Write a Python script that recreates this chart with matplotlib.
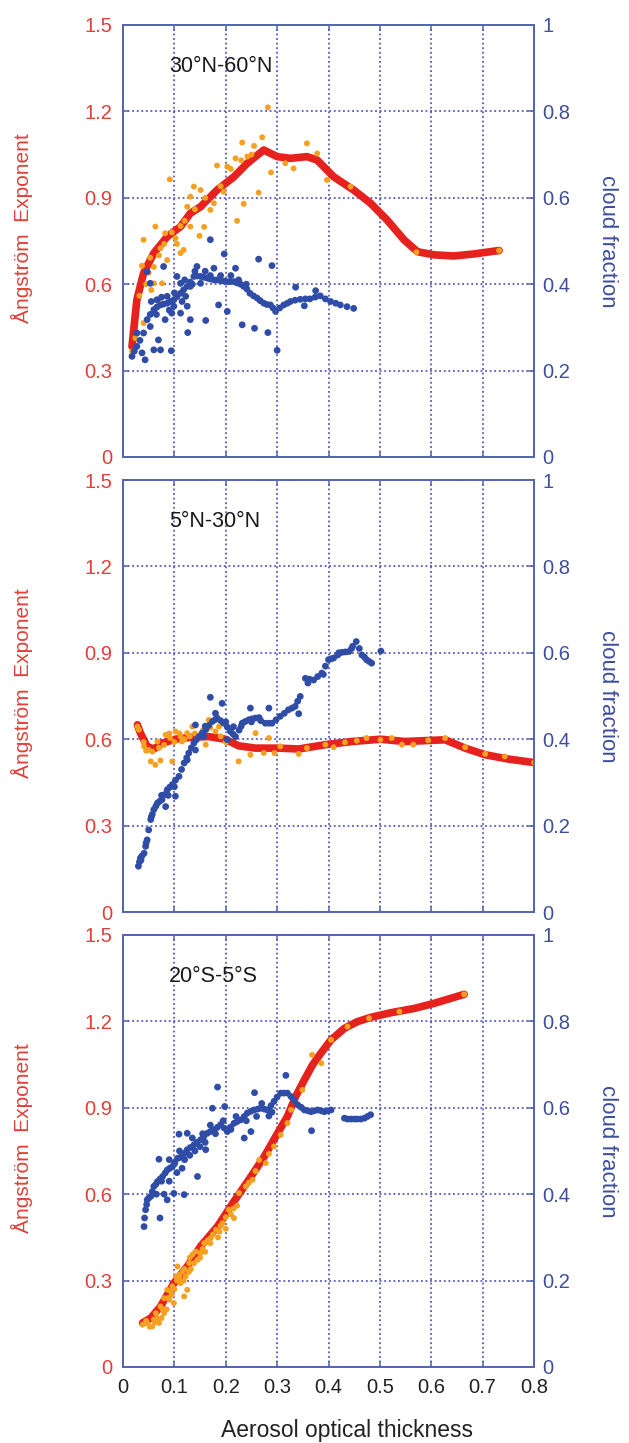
import matplotlib
matplotlib.use("Agg")
import matplotlib.pyplot as plt

plt.rcParams['font.family'] = ['Liberation Sans', 'DejaVu Sans']

# ---------------- data ----------------
regions = ["30°N-60°N", "5°N-30°N", "20°S-5°S"]
x_ticks = [0, 0.1, 0.2, 0.3, 0.4, 0.5, 0.6, 0.7, 0.8]
x_ticklabels = ["0", "0.1", "0.2", "0.3", "0.4", "0.5", "0.6", "0.7", "0.8"]
ae_ticks = [0, 0.3, 0.6, 0.9, 1.2, 1.5]
ae_ticklabels = ["0", "0.3", "0.6", "0.9", "1.2", "1.5"]
cf_ticks = [0, 0.2, 0.4, 0.6, 0.8, 1.0]
cf_ticklabels = ["0", "0.2", "0.4", "0.6", "0.8", "1"]

# Panel 1: 30N-60N
p1_line_x = [0.0175, 0.027, 0.040, 0.060, 0.086, 0.112, 0.131, 0.151, 0.183, 0.216, 0.242,
             0.274, 0.300, 0.326, 0.358, 0.378, 0.410, 0.449, 0.482, 0.514, 0.547, 0.573,
             0.605, 0.644, 0.683, 0.732]
p1_line_y = [0.384, 0.546, 0.638, 0.708, 0.765, 0.800, 0.846, 0.869, 0.927, 0.973, 1.020,
             1.066, 1.043, 1.037, 1.043, 1.031, 0.973, 0.927, 0.881, 0.823, 0.754, 0.713,
             0.702, 0.698, 0.705, 0.717]
p1_orange_x = [0.282, 0.271, 0.255, 0.232, 0.203, 0.183, 0.219, 0.242, 0.288, 0.264, 0.235,
               0.222, 0.158, 0.149, 0.112, 0.091, 0.063, 0.040, 0.037, 0.053, 0.073, 0.082,
               0.102, 0.118, 0.131, 0.138, 0.151, 0.125, 0.170, 0.196, 0.358, 0.378, 0.332,
               0.316, 0.397, 0.443, 0.571, 0.732, 0.0175, 0.024, 0.032, 0.040, 0.060, 0.076,
               0.069, 0.086, 0.112, 0.131, 0.177,
               0.050, 0.060, 0.070, 0.080, 0.095, 0.105, 0.120, 0.140, 0.160, 0.190, 0.210,
               0.230, 0.250, 0.045, 0.055]
p1_orange_y = [1.214, 1.110, 1.080, 1.092, 1.008, 1.012, 1.037, 1.043, 0.988, 0.918, 0.879,
               0.820, 0.799, 0.768, 0.802, 0.964, 0.800, 0.754, 0.664, 0.692, 0.725, 0.777,
               0.760, 0.719, 0.904, 0.939, 0.927, 0.869, 0.858, 0.921, 1.089, 1.054, 1.002,
               1.020, 0.962, 0.939, 0.711, 0.717, 0.366, 0.413, 0.560, 0.465, 0.603, 0.603,
               0.540, 0.684, 0.708, 0.800, 0.881,
               0.640, 0.660, 0.700, 0.740, 0.780, 0.740, 0.820, 0.860, 0.900, 0.940, 1.000,
               1.030, 1.050, 0.600, 0.580]
p1_blue_x = [0.0175, 0.022, 0.027, 0.033, 0.040, 0.047, 0.053, 0.060, 0.066, 0.073, 0.079,
             0.086, 0.092, 0.099, 0.105, 0.112, 0.118, 0.125, 0.131, 0.138, 0.144, 0.151,
             0.157, 0.164, 0.170, 0.177, 0.183, 0.190, 0.197, 0.203, 0.209, 0.216, 0.222,
             0.229, 0.235, 0.241, 0.247, 0.254, 0.261, 0.267, 0.274, 0.280, 0.287, 0.292,
             0.297, 0.305, 0.313, 0.320, 0.326, 0.335, 0.345, 0.355, 0.364, 0.374, 0.384,
             0.394, 0.404, 0.414, 0.423, 0.436, 0.449,
             0.170, 0.197, 0.219, 0.264, 0.290, 0.144, 0.177, 0.186, 0.203, 0.131, 0.161,
             0.126, 0.232, 0.256, 0.282, 0.300, 0.073, 0.069, 0.094, 0.043, 0.037, 0.053,
             0.079, 0.053, 0.047, 0.086, 0.099, 0.105, 0.112, 0.122, 0.082, 0.095, 0.066,
             0.027, 0.060, 0.336, 0.353, 0.375, 0.131, 0.151, 0.125, 0.112,
             0.055, 0.065, 0.075, 0.090, 0.100, 0.115, 0.120, 0.135, 0.140, 0.160, 0.170,
             0.190, 0.210, 0.225, 0.240]
p1_blue_y = [0.233, 0.245, 0.256, 0.270, 0.287, 0.318, 0.330, 0.341, 0.347, 0.352, 0.354,
             0.356, 0.360, 0.364, 0.371, 0.379, 0.387, 0.395, 0.405, 0.418, 0.419, 0.418,
             0.416, 0.414, 0.412, 0.410, 0.410, 0.408, 0.407, 0.406, 0.406, 0.406, 0.403,
             0.400, 0.395, 0.389, 0.379, 0.373, 0.368, 0.362, 0.356, 0.353, 0.352, 0.345,
             0.337, 0.345, 0.352, 0.356, 0.360, 0.363, 0.365, 0.366, 0.366, 0.370, 0.373,
             0.366, 0.360, 0.356, 0.352, 0.348, 0.344,
             0.503, 0.470, 0.437, 0.458, 0.443, 0.441, 0.437, 0.352, 0.337, 0.318, 0.316,
             0.288, 0.306, 0.298, 0.288, 0.247, 0.248, 0.271, 0.246, 0.225, 0.241, 0.302,
             0.441, 0.402, 0.429, 0.372, 0.349, 0.418, 0.402, 0.372, 0.318, 0.333, 0.364,
             0.287, 0.248, 0.393, 0.350, 0.385, 0.395, 0.402, 0.349, 0.333,
             0.360, 0.330, 0.370, 0.340, 0.380, 0.360, 0.410, 0.400, 0.430, 0.430, 0.420,
             0.420, 0.420, 0.410, 0.400]

# Panel 2: 5N-30N
p2_line_x = [0.028, 0.034, 0.047, 0.060, 0.076, 0.102, 0.135, 0.167, 0.199, 0.225, 0.258,
             0.303, 0.342, 0.394, 0.446, 0.501, 0.549, 0.601, 0.627, 0.666, 0.705, 0.750,
             0.800]
p2_line_y = [0.650, 0.621, 0.575, 0.566, 0.586, 0.600, 0.607, 0.609, 0.600, 0.577, 0.569,
             0.569, 0.566, 0.581, 0.592, 0.600, 0.592, 0.596, 0.598, 0.569, 0.546, 0.531,
             0.519]
p2_orange_x = [0.028, 0.031, 0.041, 0.050, 0.057, 0.054, 0.063, 0.073, 0.067, 0.083, 0.092,
               0.102, 0.112, 0.096, 0.115, 0.125, 0.135, 0.148, 0.161, 0.167, 0.180, 0.187,
               0.203, 0.225, 0.248, 0.258, 0.274, 0.284, 0.295, 0.306, 0.342, 0.358, 0.394,
               0.410, 0.432, 0.455, 0.474, 0.501, 0.523, 0.543, 0.565, 0.594, 0.627, 0.666,
               0.705, 0.743, 0.800,
               0.040, 0.045, 0.070, 0.080, 0.090, 0.100, 0.110, 0.120, 0.130, 0.140, 0.155,
               0.170, 0.190, 0.200]
p2_orange_y = [0.644, 0.633, 0.575, 0.563, 0.557, 0.523, 0.511, 0.526, 0.592, 0.615, 0.604,
               0.627, 0.609, 0.523, 0.592, 0.621, 0.644, 0.609, 0.581, 0.667, 0.627, 0.644,
               0.598, 0.523, 0.546, 0.621, 0.552, 0.604, 0.552, 0.575, 0.549, 0.569, 0.581,
               0.572, 0.589, 0.595, 0.604, 0.598, 0.604, 0.581, 0.581, 0.596, 0.604, 0.572,
               0.549, 0.540, 0.519,
               0.590, 0.560, 0.570, 0.580, 0.620, 0.590, 0.620, 0.600, 0.610, 0.620, 0.630,
               0.640, 0.610, 0.590]
p2_blue_x = [0.030, 0.032, 0.034, 0.037, 0.041, 0.044, 0.047, 0.050, 0.054, 0.057, 0.060,
             0.064, 0.067, 0.071, 0.076, 0.081, 0.086, 0.091, 0.096, 0.102, 0.109, 0.114,
             0.119, 0.124, 0.128, 0.133, 0.138, 0.143, 0.148, 0.154, 0.161, 0.167, 0.174,
             0.179, 0.183, 0.190, 0.196, 0.203, 0.209, 0.214, 0.219, 0.226, 0.232, 0.238,
             0.245, 0.251, 0.258, 0.268, 0.277, 0.284, 0.290, 0.298, 0.306, 0.314, 0.322,
             0.329, 0.335, 0.340, 0.345, 0.355, 0.363, 0.371, 0.379, 0.387, 0.394, 0.400,
             0.405, 0.410, 0.418, 0.426, 0.433, 0.440, 0.447, 0.454, 0.460, 0.465, 0.470,
             0.474, 0.479, 0.484, 0.502,
             0.170, 0.193, 0.203, 0.248, 0.284, 0.342, 0.141, 0.157, 0.141, 0.102, 0.083,
             0.125, 0.215,
             0.035, 0.045, 0.055, 0.075, 0.088, 0.100, 0.160, 0.180, 0.200, 0.230, 0.250,
             0.265, 0.360, 0.390, 0.420, 0.445]
p2_blue_y = [0.106, 0.116, 0.125, 0.130, 0.136, 0.152, 0.167, 0.190, 0.214, 0.226, 0.237,
             0.245, 0.252, 0.256, 0.260, 0.272, 0.283, 0.289, 0.295, 0.305, 0.314, 0.330,
             0.345, 0.357, 0.368, 0.380, 0.391, 0.399, 0.406, 0.414, 0.422, 0.432, 0.441,
             0.445, 0.449, 0.443, 0.437, 0.428, 0.418, 0.412, 0.406, 0.421, 0.437, 0.441,
             0.445, 0.447, 0.449, 0.443, 0.437, 0.437, 0.437, 0.445, 0.453, 0.460, 0.468,
             0.472, 0.476, 0.488, 0.499, 0.541, 0.539, 0.537, 0.545, 0.553, 0.569, 0.584,
             0.586, 0.588, 0.595, 0.601, 0.602, 0.603, 0.615, 0.626, 0.610, 0.595, 0.590,
             0.584, 0.580, 0.576, 0.604,
             0.497, 0.483, 0.399, 0.472, 0.472, 0.459, 0.433, 0.406, 0.375, 0.268, 0.244,
             0.352, 0.429,
             0.120, 0.160, 0.220, 0.270, 0.270, 0.290, 0.430, 0.460, 0.440, 0.430, 0.440,
             0.450, 0.530, 0.550, 0.600, 0.610]

# Panel 3: 20S-5S
p3_line_x = [0.038, 0.054, 0.073, 0.099, 0.125, 0.151, 0.184, 0.216, 0.249, 0.275, 0.301,
             0.320, 0.336, 0.353, 0.369, 0.385, 0.405, 0.431, 0.456, 0.482, 0.521, 0.567,
             0.606, 0.638, 0.664]
p3_line_y = [0.153, 0.170, 0.210, 0.291, 0.349, 0.419, 0.488, 0.575, 0.661, 0.731, 0.812,
             0.870, 0.939, 0.997, 1.049, 1.089, 1.136, 1.176, 1.199, 1.214, 1.230, 1.245,
             1.263, 1.280, 1.294]
p3_orange_x = [0.038, 0.047, 0.057, 0.070, 0.064, 0.073, 0.080, 0.090, 0.086, 0.096, 0.103,
               0.106, 0.116, 0.122, 0.129, 0.135, 0.142, 0.151, 0.158, 0.171, 0.181, 0.194,
               0.206, 0.216, 0.226, 0.239, 0.252, 0.265, 0.278, 0.294, 0.307, 0.320, 0.327,
               0.349, 0.368, 0.386, 0.405, 0.437, 0.479, 0.538, 0.664, 0.112, 0.119, 0.080,
               0.067, 0.125, 0.099, 0.060, 0.077, 0.093, 0.109, 0.132, 0.145, 0.165, 0.188,
               0.200, 0.222, 0.245, 0.258, 0.284,
               0.045, 0.052, 0.062, 0.075, 0.085, 0.088, 0.095, 0.100, 0.105, 0.110, 0.118,
               0.120, 0.128, 0.130, 0.138, 0.150, 0.155, 0.160, 0.170, 0.175, 0.185, 0.190,
               0.200, 0.210, 0.215]
p3_orange_y = [0.147, 0.153, 0.141, 0.153, 0.187, 0.210, 0.239, 0.234, 0.268, 0.280, 0.315,
               0.349, 0.332, 0.315, 0.361, 0.390, 0.401, 0.396, 0.430, 0.448, 0.476, 0.500,
               0.546, 0.517, 0.604, 0.627, 0.650, 0.719, 0.708, 0.766, 0.806, 0.847, 0.893,
               0.962, 1.084, 1.055, 1.136, 1.182, 1.211, 1.234, 1.294, 0.291, 0.245, 0.187,
               0.170, 0.268, 0.222, 0.165, 0.200, 0.262, 0.310, 0.340, 0.372, 0.440, 0.470,
               0.520, 0.560, 0.640, 0.680, 0.740,
               0.160, 0.140, 0.155, 0.170, 0.200, 0.240, 0.250, 0.270, 0.300, 0.320, 0.300,
               0.340, 0.330, 0.380, 0.360, 0.380, 0.410, 0.400, 0.430, 0.460, 0.450, 0.490,
               0.480, 0.530, 0.550]
p3_blue_x = [0.041, 0.042, 0.044, 0.046, 0.047, 0.050, 0.054, 0.057, 0.060, 0.064, 0.067,
             0.072, 0.077, 0.082, 0.086, 0.091, 0.096, 0.101, 0.106, 0.111, 0.116, 0.120,
             0.125, 0.131, 0.138, 0.144, 0.151, 0.157, 0.164, 0.170, 0.177, 0.184, 0.190,
             0.197, 0.203, 0.209, 0.216, 0.222, 0.229, 0.236, 0.242, 0.249, 0.255, 0.262,
             0.268, 0.275, 0.281, 0.288, 0.294, 0.300, 0.307, 0.313, 0.320, 0.327, 0.333,
             0.340, 0.347, 0.353, 0.360, 0.366, 0.372, 0.379, 0.386, 0.392, 0.399, 0.405,
             0.431, 0.437, 0.444, 0.450, 0.456, 0.463, 0.470, 0.476, 0.482,
             0.184, 0.198, 0.174, 0.125, 0.109, 0.070, 0.072, 0.086, 0.119, 0.145, 0.161,
             0.256, 0.317, 0.284, 0.236, 0.249, 0.367, 0.099,
             0.090, 0.100, 0.105, 0.110, 0.115, 0.120, 0.130, 0.135, 0.140, 0.150, 0.155,
             0.160, 0.170, 0.180, 0.195, 0.210, 0.220, 0.240, 0.260, 0.270, 0.290, 0.080,
             0.075, 0.065, 0.090]
p3_blue_y = [0.325, 0.345, 0.364, 0.376, 0.387, 0.391, 0.395, 0.406, 0.418, 0.423, 0.429,
             0.435, 0.441, 0.449, 0.456, 0.460, 0.464, 0.474, 0.483, 0.485, 0.487, 0.495,
             0.503, 0.508, 0.514, 0.520, 0.526, 0.533, 0.541, 0.545, 0.549, 0.555, 0.561,
             0.553, 0.545, 0.555, 0.564, 0.568, 0.572, 0.580, 0.588, 0.592, 0.595, 0.597,
             0.599, 0.597, 0.595, 0.605, 0.615, 0.625, 0.634, 0.634, 0.634, 0.626, 0.618,
             0.607, 0.601, 0.595, 0.593, 0.591, 0.593, 0.595, 0.593, 0.591, 0.593, 0.595,
             0.576, 0.574, 0.574, 0.574, 0.574, 0.574, 0.576, 0.580, 0.584,
             0.648, 0.603, 0.599, 0.541, 0.539, 0.481, 0.345, 0.387, 0.399, 0.441, 0.503,
             0.635, 0.675, 0.581, 0.530, 0.545, 0.547, 0.402,
             0.430, 0.470, 0.450, 0.500, 0.460, 0.480, 0.490, 0.530, 0.500, 0.510, 0.540,
             0.520, 0.560, 0.540, 0.570, 0.550, 0.580, 0.570, 0.580, 0.610, 0.590, 0.400,
             0.430, 0.400, 0.480]

panels = [
    (p1_line_x, p1_line_y, p1_orange_x, p1_orange_y, p1_blue_x, p1_blue_y),
    (p2_line_x, p2_line_y, p2_orange_x, p2_orange_y, p2_blue_x, p2_blue_y),
    (p3_line_x, p3_line_y, p3_orange_x, p3_orange_y, p3_blue_x, p3_blue_y),
]

# ---------------- style ----------------
RED = "#E5221E"
ORANGE = "#F5A020"
BLUE = "#2F4DA6"
RED_TXT = "#E0403A"
BLUE_TXT = "#3E4E9C"
SPINE = "#5466B0"
GRID = "#3A3FB0"

W, H = 629, 1443
fig = plt.figure(figsize=(W / 100, H / 100), dpi=100)

left_px, right_px = 123, 534
panel_px = [(25, 457), (480, 912), (935, 1367)]

for i, ((top, bot), data, name) in enumerate(zip(panel_px, panels, regions)):
    lx, ly, ox, oy, bx, by = data
    ax = fig.add_axes([left_px / W, 1 - bot / H, (right_px - left_px) / W, (bot - top) / H])
    ax2 = ax.twinx()

    ax.plot(lx, ly, color=RED, lw=5.5, solid_capstyle='round', solid_joinstyle='round', zorder=3)
    ax.scatter(ox, oy, s=18, color=ORANGE, edgecolors='none', zorder=4)
    ax2.scatter(bx, by, s=24, color=BLUE, edgecolors='none', zorder=4)

    ax.set_xlim(0, 0.8)
    ax.set_ylim(0, 1.5)
    ax2.set_ylim(0, 1.0)
    ax.set_xticks(x_ticks)
    ax.set_yticks(ae_ticks)
    ax.set_yticklabels(ae_ticklabels)
    ax2.set_yticks(cf_ticks)
    ax2.set_yticklabels(cf_ticklabels)
    if i == 2:
        ax.set_xticklabels(x_ticklabels)
    else:
        ax.set_xticklabels([])

    ax.grid(True, color=GRID, linestyle=(0, (1.2, 1.8)), linewidth=1.1, zorder=0)
    ax.set_axisbelow(True)

    for a in (ax, ax2):
        for s in a.spines.values():
            s.set_color(SPINE)
            s.set_linewidth(1.3)
    ax.tick_params(axis='both', direction='in', length=4, width=1.1, color=SPINE,
                   labelsize=14.5, top=True)
    ax.tick_params(axis='y', labelcolor=RED_TXT, pad=8)
    ax.tick_params(axis='x', labelcolor='#222222', pad=8)
    ax2.tick_params(axis='y', direction='in', length=4, width=1.1, color=SPINE,
                    labelsize=14.5, labelcolor=BLUE_TXT, pad=6)

    ax.text(0.112, 0.905, name, transform=ax.transAxes, fontsize=15.5, color='#1a1a1a',
            ha='left', va='center')

    ax.set_ylabel("Ångström  Exponent", color=RED_TXT, fontsize=15, va='center')
    ax.yaxis.set_label_coords(-0.245, 0.53)
    ax2.set_ylabel("cloud fraction", color=BLUE_TXT, fontsize=16, rotation=270,
                   va='center')
    ax2.yaxis.set_label_coords(1.18, 0.5)

fig.text(347 / W, 1 - 1431 / H, "Aerosol optical thickness",
         ha='center', va='center', fontsize=16.5, color='#222222')

fig.savefig("out.png", dpi=100)
